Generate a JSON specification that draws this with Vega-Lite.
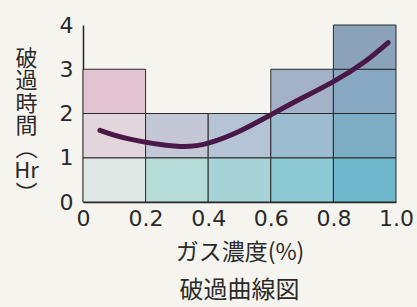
{
  "$schema": "https://vega.github.io/schema/vega-lite/v6.json",
  "autosize": "none",
  "width": 313,
  "height": 177,
  "padding": {"left": 83, "top": 25, "right": 21, "bottom": 105},
  "background": "#f6f4ef",
  "config": {
    "view": {"stroke": null},
    "font": "Noto Sans CJK JP"
  },
  "title": {
    "text": "破過曲線図",
    "orient": "bottom",
    "fontSize": 24,
    "fontWeight": "normal",
    "color": "#2a2a2a",
    "offset": 15,
    "anchor": "middle",
    "font": "Noto Sans CJK JP"
  },
  "layer": [
    {
      "data": {
        "values": [
          {"x0": 0.0, "x1": 0.2, "y0": 0, "y1": 1, "cell": "a0"},
          {"x0": 0.0, "x1": 0.2, "y0": 1, "y1": 2, "cell": "a1"},
          {"x0": 0.0, "x1": 0.2, "y0": 2, "y1": 3, "cell": "a2"},
          {"x0": 0.2, "x1": 0.4, "y0": 0, "y1": 1, "cell": "b0"},
          {"x0": 0.2, "x1": 0.4, "y0": 1, "y1": 2, "cell": "b1"},
          {"x0": 0.4, "x1": 0.6, "y0": 0, "y1": 1, "cell": "c0"},
          {"x0": 0.4, "x1": 0.6, "y0": 1, "y1": 2, "cell": "c1"},
          {"x0": 0.6, "x1": 0.8, "y0": 0, "y1": 1, "cell": "d0"},
          {"x0": 0.6, "x1": 0.8, "y0": 1, "y1": 2, "cell": "d1"},
          {"x0": 0.6, "x1": 0.8, "y0": 2, "y1": 3, "cell": "d2"},
          {"x0": 0.8, "x1": 1.0, "y0": 0, "y1": 1, "cell": "e0"},
          {"x0": 0.8, "x1": 1.0, "y0": 1, "y1": 2, "cell": "e1"},
          {"x0": 0.8, "x1": 1.0, "y0": 2, "y1": 3, "cell": "e2"},
          {"x0": 0.8, "x1": 1.0, "y0": 3, "y1": 4, "cell": "e3"}
        ]
      },
      "mark": {"type": "rect", "stroke": "#2b2b2b", "strokeWidth": 1},
      "encoding": {
        "x": {
          "field": "x0", "type": "quantitative",
          "scale": {"domain": [0, 1], "nice": false, "zero": false},
          "axis": {
            "values": [0, 0.2, 0.4, 0.6, 0.8, 1.0],
            "labelExpr": "datum.value == 0 ? '0' : format(datum.value, '.1f')",
            "grid": false, "ticks": false,
            "domainColor": "#222", "domainWidth": 1.5,
            "labelFontSize": 22, "labelColor": "#2a2a2a", "labelFont": "DejaVu Sans",
            "labelPadding": 6, "labelFlush": false,
            "title": "ガス濃度(%)",
            "titleFontSize": 23, "titleFontWeight": "normal", "titleColor": "#2a2a2a",
            "titlePadding": 12, "titleFont": "Noto Sans CJK JP"
          }
        },
        "x2": {"field": "x1"},
        "y": {
          "field": "y0", "type": "quantitative",
          "scale": {"domain": [0, 4], "nice": false},
          "axis": {
            "values": [0, 1, 2, 3, 4],
            "grid": false, "ticks": false,
            "domainColor": "#222", "domainWidth": 1.5,
            "labelFontSize": 22, "labelColor": "#2a2a2a", "labelFont": "DejaVu Sans",
            "labelPadding": 10, "labelFlush": false,
            "title": ["破", "過", "時", "間", "︵", "Hr", "︶"],
            "titleAngle": 0, "titleFontSize": 22, "titleFontWeight": "normal",
            "titleColor": "#2a2a2a", "titleLineHeight": 22.5,
            "titleAlign": "center", "titleBaseline": "top",
            "titleX": -57, "titleY": 23, "titleFont": "Noto Sans CJK JP"
          }
        },
        "y2": {"field": "y1"},
        "color": {
          "field": "cell", "type": "nominal", "legend": null,
          "scale": {
            "domain": ["a0","a1","a2","b0","b1","c0","c1","d0","d1","d2","e0","e1","e2","e3"],
            "range": ["#dfe8e4","#e2d6dc","#e3c3cf","#b6dcd8","#c4c8d6","#a6d4d6","#b4c4d4","#8ccad6","#9cbcd0","#a4b2c8","#6fb8cc","#7eaec6","#86a8c2","#8aa2ba"]
          }
        }
      }
    },
    {
      "data": {
        "values": [
          {"x": 0.054, "y": 1.62},
          {"x": 0.15, "y": 1.42},
          {"x": 0.3, "y": 1.26},
          {"x": 0.4, "y": 1.33},
          {"x": 0.5, "y": 1.6},
          {"x": 0.6, "y": 1.97},
          {"x": 0.7, "y": 2.35},
          {"x": 0.8, "y": 2.72},
          {"x": 0.9, "y": 3.17},
          {"x": 0.975, "y": 3.6}
        ]
      },
      "mark": {"type": "line", "interpolate": "natural", "color": "#4a1848", "strokeWidth": 5, "strokeCap": "round"},
      "encoding": {
        "x": {"field": "x", "type": "quantitative"},
        "y": {"field": "y", "type": "quantitative"}
      }
    }
  ]
}
